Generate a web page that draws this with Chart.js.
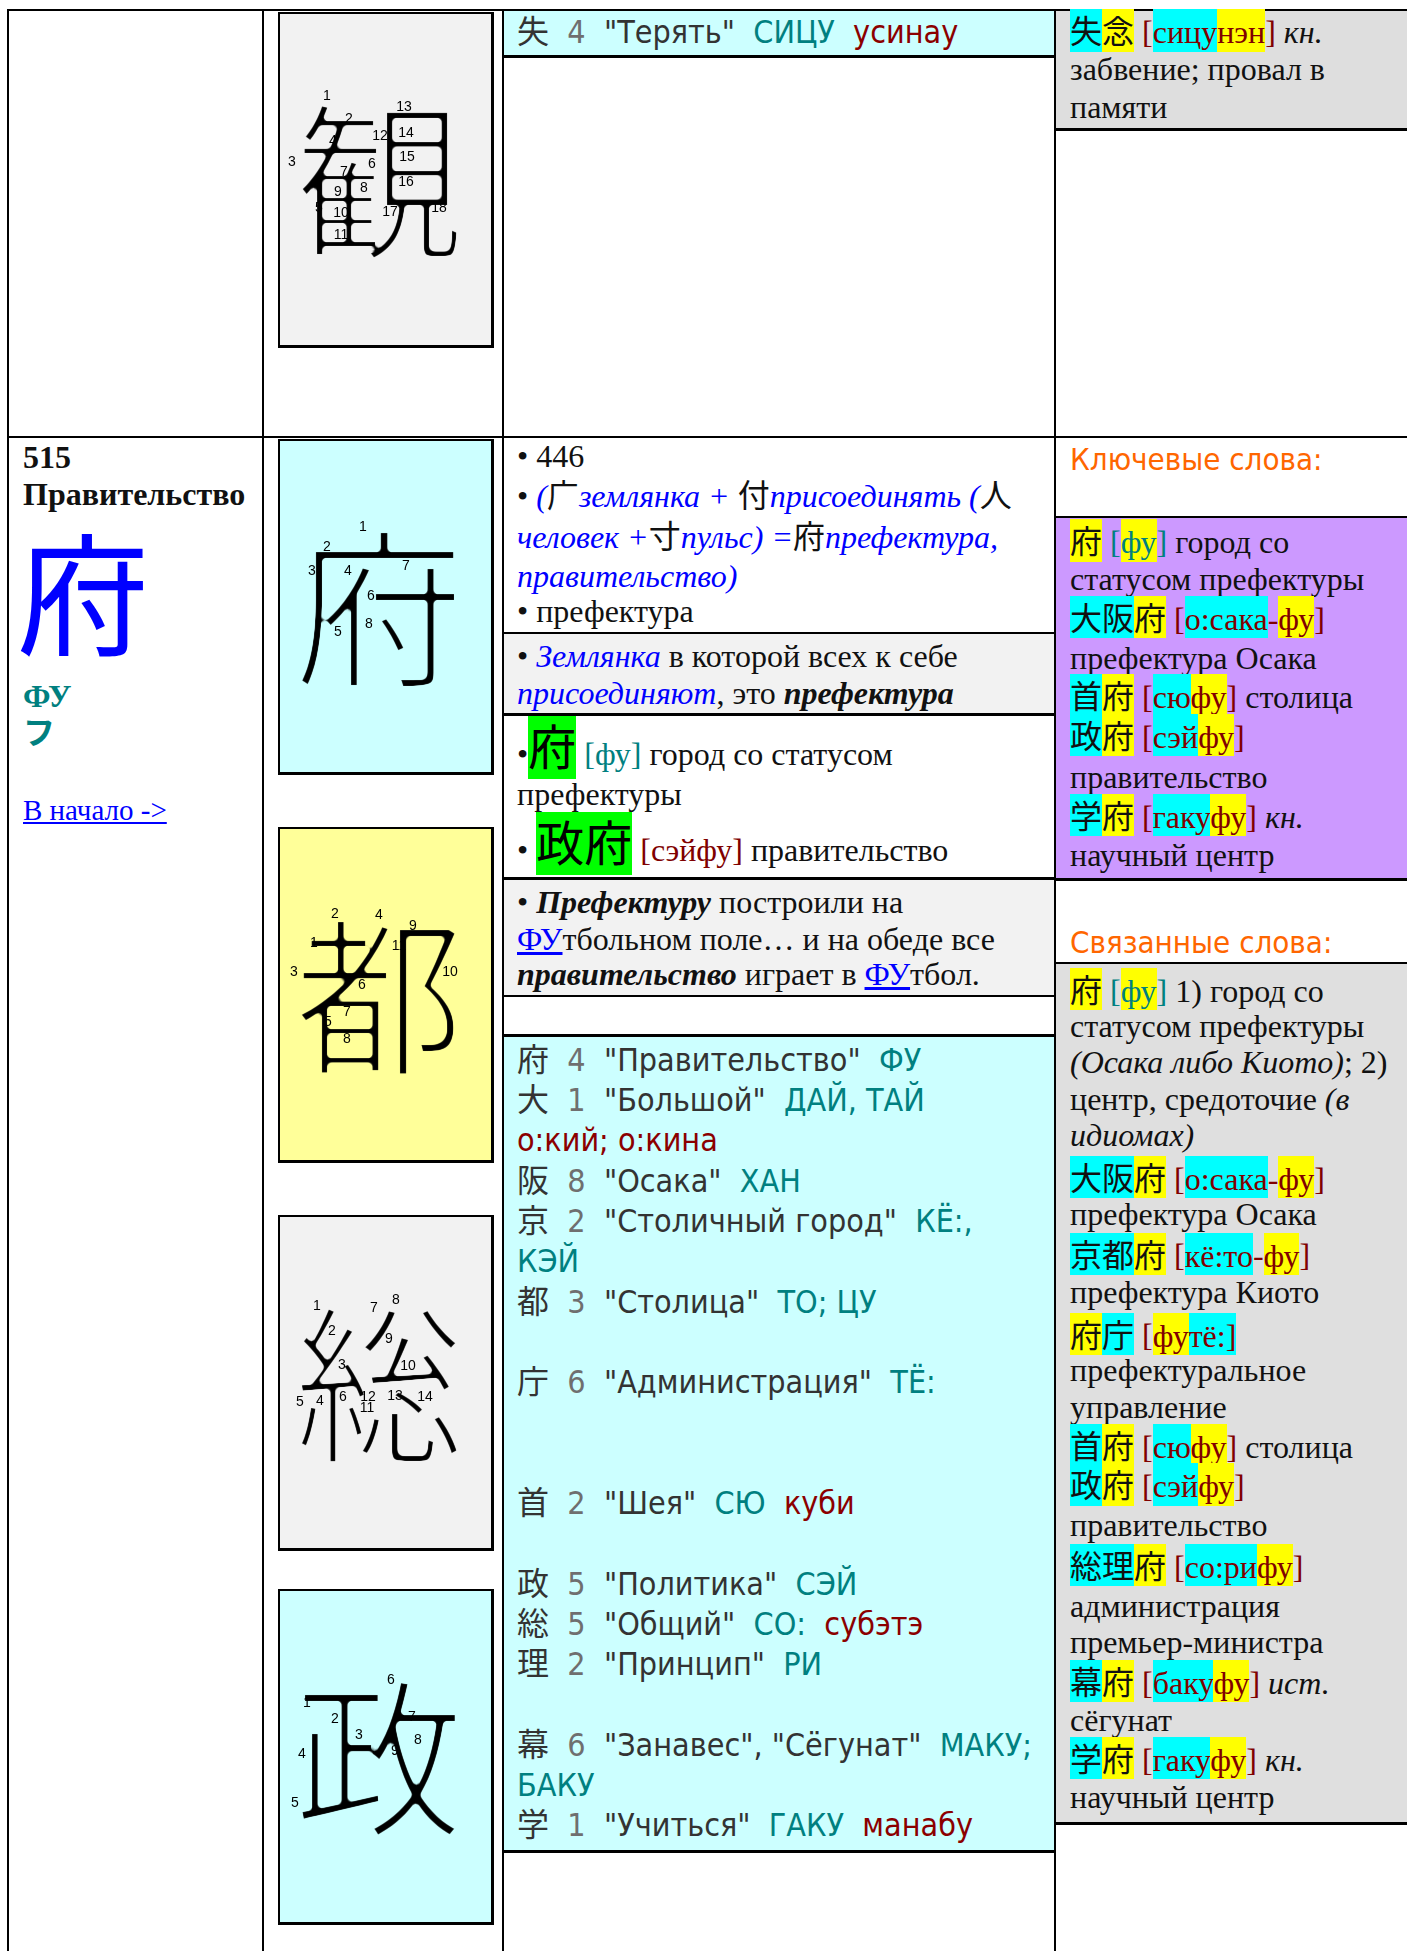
<!DOCTYPE html>
<html lang="ru">
<head>
<meta charset="utf-8">
<script src="https://cdn.jsdelivr.net/npm/chart.js@4.4.0/dist/chart.umd.min.js"></script>
<style>
  html, body { margin: 0; padding: 0; background: #fff; }
  body { width: 1407px; height: 1951px; position: relative; overflow: hidden; }
  .abs { position: absolute; }
  .rule { position: absolute; background: #000; }
  .serif { position: absolute; font-family: "Liberation Serif", "Noto Sans CJK JP", serif; font-size: 32px; line-height: 36.8px; color: #111; }
  .sans { position: absolute; font-family: "DejaVu Sans Condensed", "DejaVu Sans", "Noto Sans CJK JP", sans-serif; font-stretch: condensed; font-size: 32px; line-height: 40.3px; color: #333; }
  .ln { white-space: nowrap; height: 36.8px; }
  .sans .ln { white-space: pre; height: 40.3px; }
  .y { background: #ffff00; padding: 4.8px 0 1.5px; }
  .c { background: #00ffff; padding: 4.8px 0 1.5px; }
  .g { background: #00ff00; font-size: 48px; line-height: 0; padding: 5.5px 0 4px; color: #000; }
  .tl { color: #008080; }
  .dr { color: #800000; }
  .bl { color: #0000ff; }
  a { color: #0000ff; text-decoration: underline; }
  .n { color: #6f6f6f; }
  .on { color: #008080; }
  .kun { color: #8b0000; }
  .head { position: absolute; font-family: "DejaVu Sans Condensed", "DejaVu Sans", sans-serif; font-stretch: condensed; font-size: 31px; line-height: 34px; color: #ff6600; white-space: nowrap; }
  .kbox { position: absolute; left: 278px; width: 216px; height: 336px; box-sizing: border-box; border: solid #000; border-width: 2px 3px 3px 2px; }
  .kbox canvas { position: absolute; left: -2px; top: -2px; }
</style>
</head>
<body>

<!-- cell backgrounds -->
<div class="abs" style="left:504px;top:11px;width:550px;height:44px;background:#ccffff"></div>
<div class="abs" style="left:1056px;top:11px;width:351px;height:117px;background:#dedede"></div>
<div class="abs" style="left:504px;top:634px;width:550px;height:79px;background:#f2f2f2"></div>
<div class="abs" style="left:504px;top:880px;width:550px;height:115px;background:#f2f2f2"></div>
<div class="abs" style="left:504px;top:1037px;width:550px;height:813px;background:#ccffff"></div>
<div class="abs" style="left:1056px;top:518px;width:351px;height:360px;background:#cc99ff"></div>
<div class="abs" style="left:1056px;top:964px;width:351px;height:858px;background:#dfdfdf"></div>

<!-- table rules -->
<div class="rule" style="left:7px;top:9px;width:2px;height:1942px"></div>
<div class="rule" style="left:262px;top:9px;width:2px;height:1942px"></div>
<div class="rule" style="left:502px;top:9px;width:2px;height:1942px"></div>
<div class="rule" style="left:1054px;top:9px;width:2px;height:1942px"></div>
<div class="rule" style="left:7px;top:9px;width:1400px;height:2px"></div>
<div class="rule" style="left:7px;top:436px;width:1400px;height:2px"></div>
<div class="rule" style="left:504px;top:55px;width:550px;height:3px"></div>
<div class="rule" style="left:504px;top:632px;width:550px;height:2px"></div>
<div class="rule" style="left:504px;top:713px;width:550px;height:3px"></div>
<div class="rule" style="left:504px;top:877px;width:550px;height:3px"></div>
<div class="rule" style="left:504px;top:995px;width:550px;height:2px"></div>
<div class="rule" style="left:504px;top:1034px;width:550px;height:3px"></div>
<div class="rule" style="left:504px;top:1850px;width:550px;height:3px"></div>
<div class="rule" style="left:1056px;top:128px;width:351px;height:3px"></div>
<div class="rule" style="left:1056px;top:516px;width:351px;height:2px"></div>
<div class="rule" style="left:1056px;top:878px;width:351px;height:3px"></div>
<div class="rule" style="left:1056px;top:962px;width:351px;height:2px"></div>
<div class="rule" style="left:1056px;top:1822px;width:351px;height:3px"></div>

<!-- stroke order boxes -->
<div class="kbox" style="top:12px;background:#f2f2f2"><canvas id="k0" width="216" height="336"></canvas></div>
<div class="kbox" style="top:439px;background:#ccffff"><canvas id="k1" width="216" height="336"></canvas></div>
<div class="kbox" style="top:827px;background:#ffff99"><canvas id="k2" width="216" height="336"></canvas></div>
<div class="kbox" style="top:1215px;background:#f2f2f2"><canvas id="k3" width="216" height="336"></canvas></div>
<div class="kbox" style="top:1589px;background:#ccffff"><canvas id="k4" width="216" height="336"></canvas></div>

<!-- column 1 -->
<div class="serif" style="left:23px;top:438.5px;font-weight:bold;line-height:37.3px">
  <div class="ln" style="height:37.3px">515</div>
  <div class="ln">Правительство</div>
</div>
<div class="abs" style="left:17px;top:538px;font-family:'Noto Sans CJK JP';font-size:132px;line-height:100px;height:100px;color:#0000ff">府</div>
<div class="serif" style="left:23px;top:677.5px;font-weight:bold;color:#008080">
  <div class="ln" style="height:37.3px">ФУ</div>
  <div class="ln">フ</div>
</div>
<div class="abs" style="left:23px;top:794.4px;font-family:'Liberation Serif',serif;font-size:29px;line-height:33px;white-space:nowrap"><a>В начало -&gt;</a></div>

<!-- column 3, row 1 -->
<div class="sans" style="left:517px;top:11.5px"><div class="ln">失  <span class="n">4</span>  "Терять"  <span class="on">СИЦУ</span>  <span class="kun">усинау</span></div></div>

<!-- column 3, row 2 -->
<div class="serif" style="left:517px;top:437.8px">
  <div class="ln" style="height:40.7px">• 446</div>
  <div class="ln" style="height:40.3px">• <i class="bl">(</i>广<i class="bl">землянка + </i>付<i class="bl">присоединять (</i>人</div>
  <div class="ln" style="height:39px"><i class="bl">человек +</i>寸<i class="bl">пульс) =</i>府<i class="bl">префектура,</i></div>
  <div class="ln" style="height:35px"><i class="bl">правительство)</i></div>
  <div class="ln">• префектура</div>
</div>
<div class="serif" style="left:517px;top:637.6px">
  <div class="ln" style="height:37px">• <i class="bl">Землянка</i> в которой всех к себе</div>
  <div class="ln"><i class="bl">присоединяют</i>, это <b><i>префектура</i></b></div>
</div>
<div class="serif" style="left:517px;top:735.8px">
  <div class="ln" style="height:40.5px">•<span class="g">府</span> <span class="tl">[фу]</span> город со статусом</div>
  <div class="ln" style="height:55.5px">префектуры</div>
  <div class="ln">• <span class="g">政府</span> <span class="dr">[сэйфу]</span> правительство</div>
</div>
<div class="serif" style="left:517px;top:883.6px">
  <div class="ln" style="height:37px">• <b><i>Префектуру</i></b> построили на</div>
  <div class="ln" style="height:35.2px"><a>ФУ</a>тбольном поле… и на обеде все</div>
  <div class="ln"><b><i>правительство</i></b> играет в <a>ФУ</a>тбол.</div>
</div>

<div class="sans" style="left:517px;top:1039.8px">
  <div class="ln">府  <span class="n">4</span>  "Правительство"  <span class="on">ФУ</span></div>
  <div class="ln">大  <span class="n">1</span>  "Большой"  <span class="on">ДАЙ, ТАЙ</span></div>
  <div class="ln"><span class="kun">о:кий; о:кина</span></div>
  <div class="ln">阪  <span class="n">8</span>  "Осака"  <span class="on">ХАН</span></div>
  <div class="ln">京  <span class="n">2</span>  "Столичный город"  <span class="on">КЁ:,</span></div>
  <div class="ln"><span class="on">КЭЙ</span></div>
  <div class="ln">都  <span class="n">3</span>  "Столица"  <span class="on">ТО; ЦУ</span></div>
  <div class="ln"></div>
  <div class="ln">庁  <span class="n">6</span>  "Администрация"  <span class="on">ТЁ:</span></div>
  <div class="ln"></div>
  <div class="ln"></div>
  <div class="ln">首  <span class="n">2</span>  "Шея"  <span class="on">СЮ</span>  <span class="kun">куби</span></div>
  <div class="ln"></div>
  <div class="ln">政  <span class="n">5</span>  "Политика"  <span class="on">СЭЙ</span></div>
  <div class="ln">総  <span class="n">5</span>  "Общий"  <span class="on">СО:</span>  <span class="kun">субэтэ</span></div>
  <div class="ln">理  <span class="n">2</span>  "Принцип"  <span class="on">РИ</span></div>
  <div class="ln"></div>
  <div class="ln">幕  <span class="n">6</span>  "Занавес", "Сёгунат"  <span class="on">МАКУ;</span></div>
  <div class="ln"><span class="on">БАКУ</span></div>
  <div class="ln">学  <span class="n">1</span>  "Учиться"  <span class="on">ГАКУ</span>  <span class="kun">манабу</span></div>
</div>

<!-- column 4 -->
<div class="serif" style="left:1070px;top:14.1px">
  <div class="ln" style="height:37.4px"><span class="c">失</span><span class="y">念</span> <span class="dr">[<span class="c">сицу</span><span class="y">нэн</span>]</span> <i>кн.</i></div>
  <div class="ln" style="height:37.6px">забвение; провал в</div>
  <div class="ln">памяти</div>
</div>

<div class="head" style="left:1070px;top:441.5px">Ключевые слова:</div>
<div class="serif" style="left:1070px;top:524.1px">
  <div class="ln" style="height:36.7px"><span class="y">府</span> <span class="tl">[<span class="y">фу</span>]</span> город со</div>
  <div class="ln" style="height:40px">статусом префектуры</div>
  <div class="ln" style="height:39px"><span class="c">大阪</span><span class="y">府</span> <span class="dr">[<span class="c">о:сака</span>-<span class="y">фу</span>]</span></div>
  <div class="ln" style="height:39px">префектура Осака</div>
  <div class="ln" style="height:40px"><span class="c">首</span><span class="y">府</span> <span class="dr">[<span class="c">сю</span><span class="y">фу</span>]</span> столица</div>
  <div class="ln" style="height:40px"><span class="c">政</span><span class="y">府</span> <span class="dr">[<span class="c">сэй</span><span class="y">фу</span>]</span></div>
  <div class="ln" style="height:40px">правительство</div>
  <div class="ln" style="height:38.7px"><span class="c">学</span><span class="y">府</span> <span class="dr">[<span class="c">гаку</span><span class="y">фу</span>]</span> <i>кн.</i></div>
  <div class="ln">научный центр</div>
</div>

<div class="head" style="left:1070px;top:924.9px">Связанные слова:</div>
<div class="serif" style="left:1070px;top:972.5px">
  <div class="ln" style="height:35px"><span class="y">府</span> <span class="tl">[<span class="y">фу</span>]</span> 1) город со</div>
  <div class="ln" style="height:36.3px">статусом префектуры</div>
  <div class="ln" style="height:37px"><i>(Осака либо Киото)</i>; 2)</div>
  <div class="ln" style="height:36.7px">центр, средоточие <i>(в</i></div>
  <div class="ln" style="height:43.3px"><i>идиомах)</i></div>
  <div class="ln" style="height:35px"><span class="c">大阪</span><span class="y">府</span> <span class="dr">[<span class="c">о:сака</span>-<span class="y">фу</span>]</span></div>
  <div class="ln" style="height:41.7px">префектура Осака</div>
  <div class="ln" style="height:36.3px"><span class="c">京都</span><span class="y">府</span> <span class="dr">[<span class="c">кё:то</span>-<span class="y">фу</span>]</span></div>
  <div class="ln" style="height:43.7px">префектура Киото</div>
  <div class="ln" style="height:35px"><span class="y">府</span><span class="c">庁</span> <span class="dr">[<span class="y">фу</span><span class="c">тё:]</span></span></div>
  <div class="ln" style="height:36.9px">префектуральное</div>
  <div class="ln" style="height:39.4px">управление</div>
  <div class="ln" style="height:39.3px"><span class="c">首</span><span class="y">府</span> <span class="dr">[<span class="c">сю</span><span class="y">фу</span>]</span> столица</div>
  <div class="ln" style="height:39.4px"><span class="c">政</span><span class="y">府</span> <span class="dr">[<span class="c">сэй</span><span class="y">фу</span>]</span></div>
  <div class="ln" style="height:41.1px">правительство</div>
  <div class="ln" style="height:39.2px"><span class="c">総理</span><span class="y">府</span> <span class="dr">[<span class="c">со:ри</span><span class="y">фу</span>]</span></div>
  <div class="ln" style="height:36px">администрация</div>
  <div class="ln" style="height:41px">премьер-министра</div>
  <div class="ln" style="height:37.7px"><span class="c">幕</span><span class="y">府</span> <span class="dr">[<span class="c">баку</span><span class="y">фу</span>]</span> <i>ист.</i></div>
  <div class="ln" style="height:39.3px">сёгунат</div>
  <div class="ln" style="height:37.6px"><span class="c">学</span><span class="y">府</span> <span class="dr">[<span class="c">гаку</span><span class="y">фу</span>]</span> <i>кн.</i></div>
  <div class="ln">научный центр</div>
</div>

<script>
// kanji shown in the stroke order boxes, top to bottom
const kanjiGlyphs = ['観', '府', '都', '総', '政'];

// where each stroke number sits inside its box (box units: 216 wide, 336 tall)
const kanStrokeX = [49, 71, 14, 55, 41, 94, 66, 86, 60, 63, 63, 102, 126, 128, 129, 128, 112, 161];
const kanStrokeY = [84, 107, 150, 129, 196, 152, 160, 176, 180, 201, 223, 124, 95, 121, 145, 170, 200, 196];
const fuStrokeX = [85, 49, 34, 70, 60, 93, 128, 91];
const fuStrokeY = [88, 108, 132, 132, 193, 157, 127, 185];
const toStrokeX = [36, 57, 16, 101, 50, 84, 69, 69, 135, 172, 121];
const toStrokeY = [116, 87, 145, 88, 195, 158, 185, 212, 99, 145, 119];
const souStrokeX = [39, 54, 64, 42, 22, 65, 96, 118, 111, 130, 89, 90, 117, 147];
const souStrokeY = [91, 116, 150, 186, 187, 182, 93, 85, 124, 151, 193, 182, 181, 182];
const seiStrokeX = [29, 57, 81, 24, 17, 113, 134, 140, 117];
const seiStrokeY = [114, 130, 146, 165, 214, 91, 128, 151, 162];

const strokeXs = [kanStrokeX, fuStrokeX, toStrokeX, souStrokeX, seiStrokeX];
const strokeYs = [kanStrokeY, fuStrokeY, toStrokeY, souStrokeY, seiStrokeY];

// the font only comes in one weight, so thin the glyph down by eroding it
function thinGlyph(glyph, w, h, x, y, r) {
  let c = document.createElement('canvas');
  c.width = w; c.height = h;
  let g = c.getContext('2d');
  g.font = '172px "Noto Sans CJK JP"';
  g.textAlign = 'center';
  g.textBaseline = 'alphabetic';
  g.fillStyle = '#000';
  g.fillText(glyph, x, y);

  let src = document.createElement('canvas');
  src.width = w; src.height = h;
  src.getContext('2d').drawImage(c, 0, 0);

  g.globalCompositeOperation = 'destination-in';
  for (let a = 0; a < 16; a++) {
    let ang = a * Math.PI / 8;
    g.drawImage(src, r * Math.cos(ang), r * Math.sin(ang));
  }
  return c;
}

// draws the big glyph and numbers each stroke point
const strokeLabels = {
  id: 'strokeLabels',
  afterDatasetsDraw(chart, args, opts) {
    const ctx = chart.ctx;
    const sx = chart.scales.x, sy = chart.scales.y;
    ctx.save();
    let glyphImg = thinGlyph(opts.glyph, chart.width, chart.height,
      sx.getPixelForValue(101), sy.getPixelForValue(235), 3.1);
    ctx.drawImage(glyphImg, 0, 0);

    ctx.fillStyle = '#000';
    ctx.textAlign = 'center';
    ctx.font = '14px "Liberation Sans", Arial, sans-serif';
    ctx.textBaseline = 'middle';
    chart.getDatasetMeta(0).data.forEach((pt, i) => {
      ctx.fillText(String(i + 1), pt.x, pt.y);
    });
    ctx.restore();
  }
};

kanjiGlyphs.forEach((glyph, k) => {
  let points = strokeXs[k].map((x, i) => ({ x: x, y: strokeYs[k][i] }));
  new Chart(document.getElementById('k' + k), {
    type: 'scatter',
    data: {
      datasets: [{
        label: glyph,
        data: points,
        pointRadius: 0,
        pointHoverRadius: 0
      }]
    },
    options: {
      animation: false,
      responsive: false,
      events: [],
      layout: { padding: 0 },
      plugins: {
        legend: { display: false },
        tooltip: { enabled: false },
        strokeLabels: { glyph: glyph }
      },
      scales: {
        x: { type: 'linear', min: 0, max: 216, display: false },
        y: { type: 'linear', min: 0, max: 336, reverse: true, display: false }
      }
    },
    plugins: [strokeLabels]
  });
});
</script>
</body>
</html>
